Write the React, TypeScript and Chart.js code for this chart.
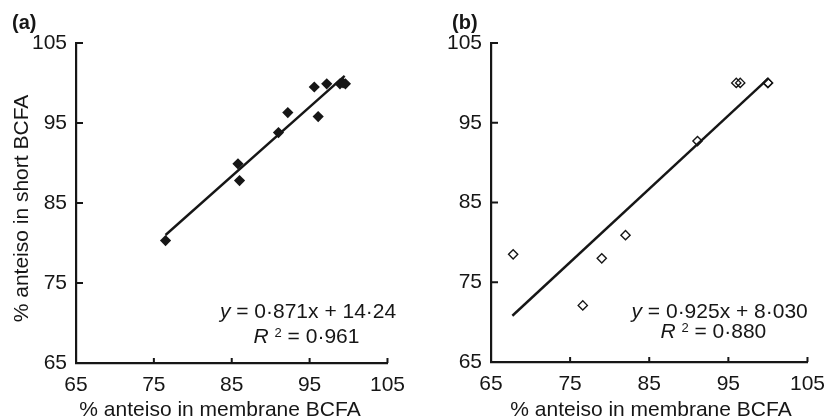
import React, { useEffect, useRef } from "react";
import { Chart, registerables } from "chart.js";
Chart.register(...registerables);

// ---- data ----
const axisTicks = [65, 75, 85, 95, 105];

const membraneA = [76.5, 85.8, 86.0, 91.0, 92.2, 95.6, 96.1, 97.2, 98.9, 99.3, 99.6];
const shortA = [80.3, 89.9, 87.8, 93.8, 96.3, 99.5, 95.8, 99.9, 99.9, 100.0, 99.9];
const fitXA = [76.5, 99.5];
const fitYA = [81.0, 100.9];

const membraneB = [67.8, 76.6, 79.0, 82.0, 91.1, 96.0, 96.5, 100.0, 100.0];
const shortB = [78.5, 72.1, 78.0, 80.9, 92.7, 100.0, 100.0, 100.0, 100.0];
const fitXB = [67.7, 100.0];
const fitYB = [70.8, 100.5];

const eqA = [" = 0·871x + 14·24", " = 0·961"];
const eqB = [" = 0·925x + 8·030", " = 0·880"];

const FAM = '"Liberation Sans", Arial, Helvetica, sans-serif';
const INK = "#161616";

type Run = { text: string; italic?: boolean; sup?: boolean };

function fontFor(r: Run, size: number) {
  if (r.sup) return `normal 13px ${FAM}`;
  return `${r.italic ? "italic" : "normal"} ${size}px ${FAM}`;
}

function drawRuns(ctx: CanvasRenderingContext2D, runs: Run[], cx: number, base: number) {
  const size = 21;
  let total = 0;
  const ws = runs.map((r) => {
    ctx.font = fontFor(r, size);
    const w = ctx.measureText(r.text).width;
    total += w;
    return w;
  });
  let x = cx - total / 2;
  ctx.textAlign = "left";
  ctx.textBaseline = "alphabetic";
  runs.forEach((r, i) => {
    ctx.font = fontFor(r, size);
    ctx.fillText(r.text, x, r.sup ? base - 6 : base);
    x += ws[i];
  });
}

const decorPlugin = {
  id: "decor",
  afterDraw(chart: any, _args: any, opts: any) {
    const { ctx, chartArea, scales } = chart;
    const xs = scales.x;
    const ys = scales.y;
    ctx.save();
    ctx.strokeStyle = INK;
    ctx.lineWidth = 2;
    ctx.beginPath();
    axisTicks.forEach((v) => {
      const px = xs.getPixelForValue(v);
      ctx.moveTo(px, chartArea.bottom);
      ctx.lineTo(px, chartArea.bottom - 5);
      const py = ys.getPixelForValue(v);
      ctx.moveTo(chartArea.left, py);
      ctx.lineTo(chartArea.left + 7, py);
    });
    ctx.stroke();

    ctx.fillStyle = INK;
    // panel label
    ctx.font = `bold 20px ${FAM}`;
    ctx.textAlign = "left";
    ctx.textBaseline = "alphabetic";
    ctx.fillText(opts.label, opts.labelX, 29);

    // x title
    ctx.font = `normal 21px ${FAM}`;
    ctx.textAlign = "center";
    ctx.fillText(opts.xTitle, opts.xTitleX, 416);

    // y title
    if (opts.yTitle) {
      ctx.save();
      ctx.translate(28, opts.yTitleY);
      ctx.rotate(-Math.PI / 2);
      ctx.textAlign = "center";
      ctx.fillText(opts.yTitle, 0, 0);
      ctx.restore();
    }

    // equation
    const eq = opts.eq;
    drawRuns(
      ctx,
      [{ text: "y", italic: true }, { text: eq.lines[0] }],
      xs.getPixelForValue(eq.x1),
      ys.getPixelForValue(eq.y1)
    );
    drawRuns(
      ctx,
      [{ text: "R", italic: true }, { text: " " }, { text: "2", sup: true }, { text: eq.lines[1] }],
      xs.getPixelForValue(eq.x2),
      ys.getPixelForValue(eq.y2)
    );
    ctx.restore();
  },
};

function makeConfig(p: any) {
  const tickFont = { family: FAM, size: 21 };
  return {
    type: "scatter",
    data: {
      datasets: [
        {
          data: p.xs.map((x: number, i: number) => ({ x, y: p.ys[i] })),
          pointStyle: "rectRot",
          pointRadius: p.filled ? 5.6 : 4.6,
          backgroundColor: p.filled ? INK : "rgba(0,0,0,0)",
          borderColor: INK,
          borderWidth: p.filled ? 0 : 1.4,
          order: 0,
        },
        {
          data: p.fx.map((x: number, i: number) => ({ x, y: p.fy[i] })),
          showLine: true,
          borderColor: INK,
          borderWidth: 2.4,
          pointRadius: 0,
          order: 1,
        },
      ],
    },
    options: {
      responsive: false,
      animation: false,
      devicePixelRatio: 1,
      layout: { padding: { left: 0, right: p.padRight, top: 43, bottom: 0 } },
      plugins: {
        legend: { display: false },
        tooltip: { enabled: false },
        decor: p.decor,
      },
      scales: {
        x: {
          type: "linear",
          min: 65,
          max: 105,
          afterBuildTicks: (s: any) => {
            s.ticks = axisTicks.map((v) => ({ value: v }));
          },
          afterFit: (s: any) => {
            s.height = p.xHeight;
          },
          grid: { display: false, drawTicks: false },
          border: { display: true, width: 2.2, color: INK },
          ticks: { color: INK, font: tickFont, padding: 10, maxRotation: 0 },
        },
        y: {
          type: "linear",
          min: 65,
          max: 105,
          afterBuildTicks: (s: any) => {
            s.ticks = axisTicks.map((v) => ({ value: v }));
          },
          afterFit: (s: any) => {
            s.width = 76;
          },
          grid: { display: false, drawTicks: false },
          border: { display: true, width: 2.2, color: INK },
          ticks: { color: INK, font: tickFont, padding: 9 },
        },
      },
    },
    plugins: [decorPlugin],
  } as any;
}

function Panel(props: { left: number; width: number; cfg: any }) {
  const ref = useRef<HTMLCanvasElement>(null);
  useEffect(() => {
    if (!ref.current) return;
    const chart = new Chart(ref.current, props.cfg);
    return () => chart.destroy();
  }, []);
  return (
    <canvas
      ref={ref}
      width={props.width}
      height={419}
      style={{ position: "absolute", left: props.left, top: 0, width: props.width, height: 419 }}
    />
  );
}

export default function App() {
  const cfgA = makeConfig({
    xs: membraneA,
    ys: shortA,
    fx: fitXA,
    fy: fitYA,
    filled: true,
    padRight: 19,
    xHeight: 56,
    decor: {
      label: "(a)",
      labelX: 12,
      xTitle: "% anteiso in membrane BCFA",
      xTitleX: 220,
      yTitle: "% anteiso in short BCFA",
      yTitleY: 208.5,
      eq: { lines: eqA, x1: 94.8, y1: 70.6, x2: 94.6, y2: 67.5 },
    },
  });
  const cfgB = makeConfig({
    xs: membraneB,
    ys: shortB,
    fx: fitXB,
    fy: fitYB,
    filled: false,
    padRight: 22,
    xHeight: 57,
    decor: {
      label: "(b)",
      labelX: 37,
      xTitle: "% anteiso in membrane BCFA",
      xTitleX: 236,
      yTitle: "",
      yTitleY: 208,
      eq: { lines: eqB, x1: 93.9, y1: 70.5, x2: 93.1, y2: 68.0 },
    },
  });
  return (
    <div style={{ position: "fixed", left: 0, top: 0, width: 835, height: 419, background: "#fff", overflow: "hidden" }}>
      <Panel left={0} width={415} cfg={cfgA} />
      <Panel left={415} width={420} cfg={cfgB} />
    </div>
  );
}
